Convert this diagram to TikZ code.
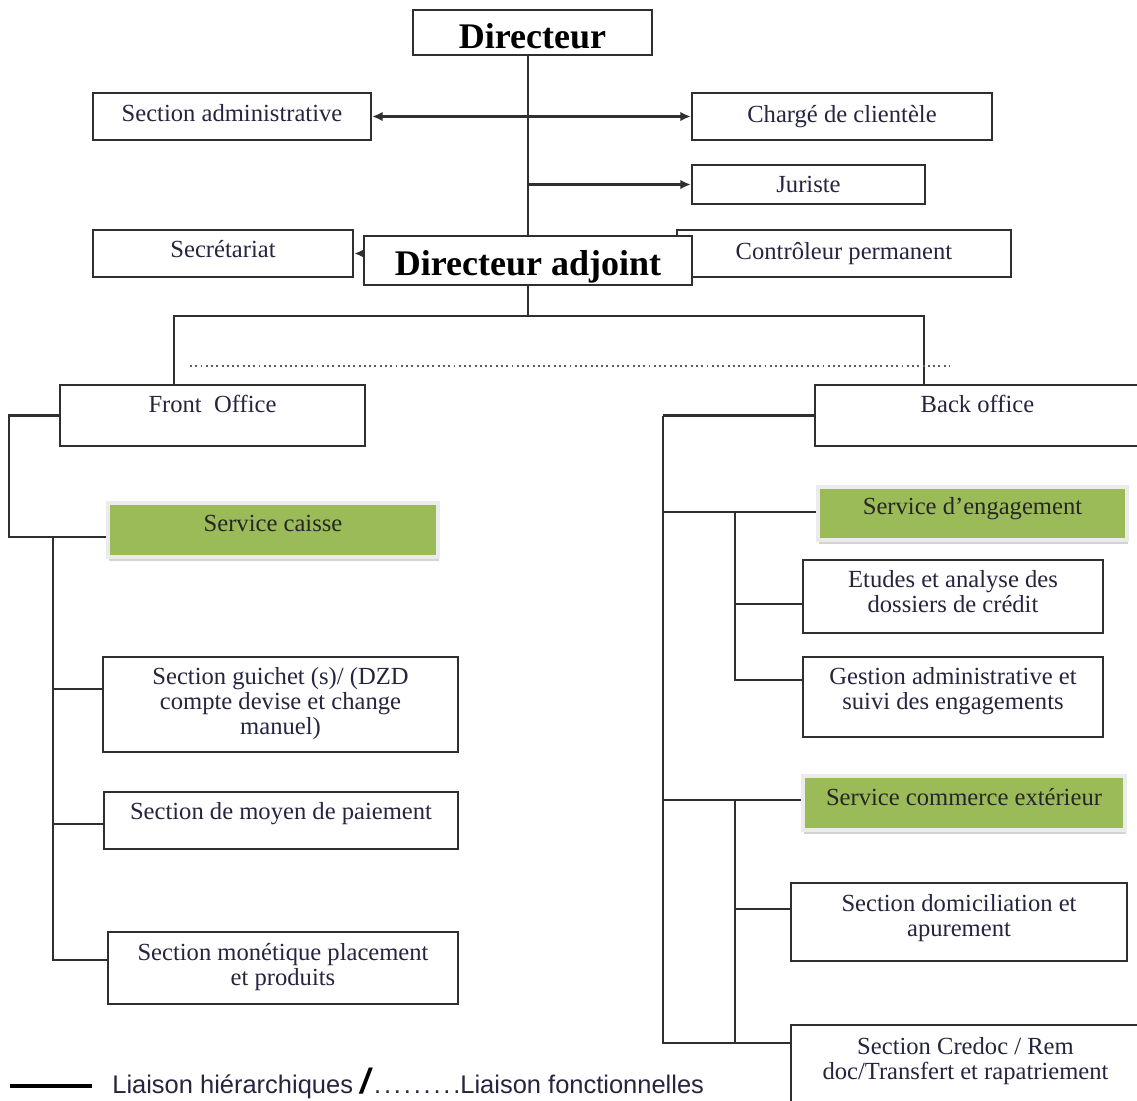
\documentclass[tikz,border=0pt]{standalone}
\usepackage{fontspec}
\setmainfont{Liberation Serif}
\newfontfamily\legendfont{Liberation Sans}
\usetikzlibrary{arrows.meta,shadows}
\definecolor{ink}{HTML}{25253F}
\definecolor{olive}{HTML}{9BBB59}
\definecolor{edge}{HTML}{2F2F2F}

\begin{document}
\begin{tikzpicture}[x=0.02cm,y=-0.02cm,
    box/.style={draw=edge,line width=1.4pt,fill=white,inner sep=0pt},
    txt/.style={text=ink,font=\fontsize{14}{14.3}\selectfont,align=center},
    head/.style={text=black,font=\fontsize{20.5}{24}\selectfont\bfseries},
    service/.style={box,draw=black!8,line width=2.5pt,fill=olive,
      drop shadow={shadow xshift=0.6pt,shadow yshift=-2pt,opacity=0.35}},
    link/.style={draw=edge,line width=1.4pt},
    tip/.style={arrows={-Latex[length=6pt,width=5.5pt]}},
    tips/.style={arrows={Latex[length=6pt,width=5.5pt]-Latex[length=6pt,width=5.5pt]}}]
      \useasboundingbox (0,0) rectangle (1137,1100);

      % direction
      \node[box,minimum width=4.78cm,minimum height=0.9cm,
        label={[head,yshift=-0.07cm]center:Directeur}] (dir) at (532.5,32.5) {};
      \node[box,minimum width=5.56cm,minimum height=0.94cm,
        label={[txt,yshift=0.07cm]center:Section administrative}] (secadm) at (232,116.5) {};
      \node[box,minimum width=6cm,minimum height=0.94cm,
        label={[txt]center:Chargé de clientèle}] (charge) at (842,116.5) {};
      \node[box,minimum width=4.66cm,minimum height=0.78cm,
        label={[txt]center:Juriste}] (juriste) at (808.5,184.5) {};
      \node[box,minimum width=6.68cm,minimum height=0.94cm,
        label={[txt]center:Contrôleur permanent}] (controleur) at (844,253.5) {};
      \node[box,minimum width=5.2cm,minimum height=0.94cm,
        label={[txt,yshift=0.09cm]center:Secrétariat}] (secretariat) at (223,253.5) {};
      \node[box,minimum width=6.56cm,minimum height=0.98cm,
        label={[head,yshift=-0.13cm]center:Directeur adjoint}] (adjoint) at (528,260.5) {};

      \draw[link] (adjoint.north) -- (adjoint.north |- dir.south);
      \draw[link,tips] (secadm.east) -- (charge.west);
      \draw[link,tip] (adjoint.north |- juriste.west) -- (juriste.west);
      \draw[link,tip] (adjoint.west |- secretariat.east) -- (secretariat.east);

      % front / back
      \node[box,minimum width=6.1cm,minimum height=1.22cm,
        label={[txt,yshift=0.23cm]center:Front\ \ Office}] (front) at (212.5,415.5) {};
      \node[box,minimum width=6.5cm,minimum height=1.22cm,
        label={[txt,yshift=0.23cm]center:Back office}] (back) at (977.5,415.5) {};

      \coordinate (hub) at (528,316);
      \draw[link] (adjoint.south) -- (hub);
      \draw[link] (front.north -| 174,0) |- (hub) -| (back.north -| 924,0);
      \coordinate (fa) at (190,366);
      \coordinate (fb) at (950,366);
      \draw[draw=ink!75,line width=1pt,dash pattern=on 1.1pt off 1.9pt] (fa) -- (fb);

      % front office
      \node[service,minimum width=6.6cm,minimum height=1.08cm,
        label={[txt,text=black!85,yshift=0.14cm]center:Service caisse}] (caisse) at (273,530) {};
      \node[box,minimum width=7.1cm,minimum height=1.9cm,
        label={[txt,yshift=0.02cm]center:Section guichet (s)/ (DZD\\compte devise et change\\manuel)}] (guichet) at (280.5,704.5) {};
      \node[box,minimum width=7.08cm,minimum height=1.14cm,
        label={[txt,yshift=0.13cm]center:Section de moyen de paiement}] (moyen) at (281,820.5) {};
      \node[box,minimum width=7cm,minimum height=1.44cm,
        label={[txt,yshift=0.02cm]center:Section monétique placement\\et produits}] (monetique) at (283,968) {};

      \draw[link] (front.west) -- ++(-50,0) |- ([yshift=-0.14cm]caisse.west);
      \coordinate (fspine) at (53,537);
      \foreach \n/\s in {guichet/0.31cm,moyen/-0.07cm,monetique/0.16cm}
      \draw[link] ([yshift=\s]\n.west) -| (fspine);

      % back office
      \node[service,minimum width=6.18cm,minimum height=1.06cm,
        label={[txt,text=black!85,yshift=0.09cm]center:Service d'engagement}] (engag) at (972.5,513.5) {};
      \node[box,minimum width=6cm,minimum height=1.46cm,
        label={[txt,yshift=0.09cm]center:Etudes et analyse des\\dossiers de crédit}] (etudes) at (953,596.5) {};
      \node[box,minimum width=6cm,minimum height=1.6cm,
        label={[txt,yshift=0.11cm]center:Gestion administrative et\\suivi des engagements}] (gestion) at (953,697) {};
      \node[service,minimum width=6.44cm,minimum height=1.08cm,
        label={[txt,text=black!85,yshift=0.12cm]center:Service commerce extérieur}] (commerce) at (964,803) {};
      \node[box,minimum width=6.72cm,minimum height=1.56cm,
        label={[txt,yshift=0.07cm]center:Section domiciliation et\\apurement}] (domic) at (959,922) {};
      \node[box,minimum width=6.98cm,minimum height=1.7cm,
        label={[txt,yshift=0.13cm]center:Section Credoc / Rem\\doc/Transfert et rapatriement}] (credoc) at (965.5,1067.5) {};

      \coordinate (bspine) at (663,415.5);
      \draw[link] (back.west) -- (bspine);
      \foreach \n/\s in {engag/0.03cm,commerce/0.06cm,credoc/0.49cm}
      \draw[link] ([yshift=\s]\n.west) -| (bspine);
      \coordinate (espine) at (735,512);
      \foreach \n/\s in {etudes/-0.15cm,gestion/0.34cm}
      \draw[link] ([yshift=\s]\n.west) -| (espine);
      \coordinate (cspine) at (735,800);
      \foreach \n/\s in {domic/0.26cm,credoc/0.49cm}
      \draw[link] ([yshift=\s]\n.west) -| (cspine);

      % legend
      \node[anchor=west,inner sep=0pt,text=ink,font=\legendfont\fontsize{14.5}{16}\selectfont] (legend) at (112,1083)
        {Liaison hiérarchiques {\color{black}\fontsize{20}{20}\selectfont\bfseries\itshape/}\,.\kern1.6pt.\kern1.6pt.\kern1.6pt.\kern1.6pt.\kern1.6pt.\kern1.6pt.\kern1.6pt.\kern1.6pt.Liaison fonctionnelles};
      \draw[line width=2.4pt] ([xshift=-0.4cm,yshift=-0.06cm]legend.west) -- ++(-82,0);
    \end{tikzpicture}
\end{document}
